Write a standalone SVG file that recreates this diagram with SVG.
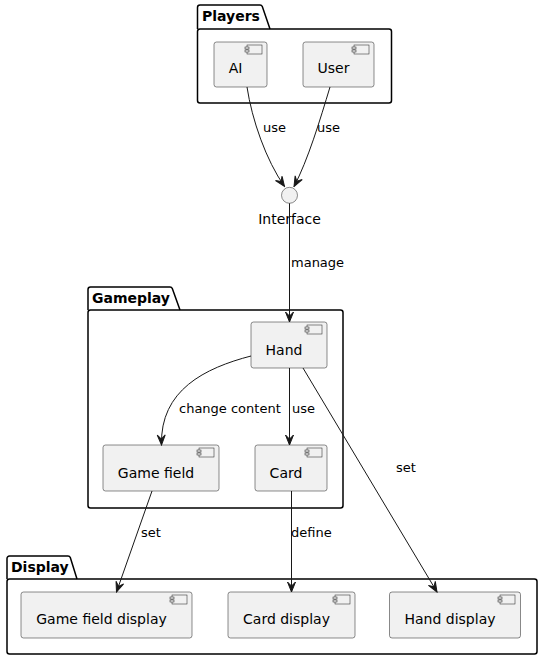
<svg xmlns="http://www.w3.org/2000/svg" width="543" height="660" viewBox="0 0 543 660">
<style>
.pkg{fill:none;stroke:#000;stroke-width:1.5}
.pt{font-family:"DejaVu Sans",sans-serif;font-size:14px;font-weight:bold;fill:#000}
.comp{fill:#F1F1F1;stroke:#181818;stroke-width:0.5}
.ct{font-family:"DejaVu Sans",sans-serif;font-size:14px;fill:#000;text-anchor:middle}
.lbl{font-family:"DejaVu Sans",sans-serif;font-size:13px;fill:#000}
.edge{fill:none;stroke:#181818;stroke-width:1}
.ico{fill:#F1F1F1;stroke:#181818;stroke-width:0.5}
</style>
<defs>
<marker id="arr" viewBox="0 0 12 10" refX="11" refY="5" markerWidth="12" markerHeight="10" markerUnits="userSpaceOnUse" orient="auto">
<path d="M1,1 L11,5 L1,9 L5,5 Z" fill="#181818" stroke="#181818" stroke-width="1"/>
</marker>
<g id="icon">
<rect x="0" y="0" width="15" height="9" class="ico"/>
<rect x="-2" y="2" width="4" height="2" class="ico"/>
<rect x="-2" y="5" width="4" height="2" class="ico"/>
</g>
</defs>
<g id="pkg-players">
<path class="pkg" d="M197.5,29 L197.5,7.5 A2.5,2.5 0 0 1 200,5 L260,5 A2.5,2.5 0 0 1 262.3,6.5 L270,29"/>
<rect class="pkg" x="197.5" y="29" width="194" height="74" rx="2.5"/>
<text class="pt" x="202" y="21">Players</text>
</g>
<g id="pkg-gameplay">
<path class="pkg" d="M88,310 L88,289.5 A2.5,2.5 0 0 1 90.5,287 L170,287 A2.5,2.5 0 0 1 172.3,288.5 L180,310"/>
<rect class="pkg" x="88" y="310" width="255" height="198" rx="2.5"/>
<text class="pt" x="92" y="303">Gameplay</text>
</g>
<g id="pkg-display">
<path class="pkg" d="M7,579 L7,558.5 A2.5,2.5 0 0 1 9.5,556 L68,556 A2.5,2.5 0 0 1 70.3,557.5 L77,579"/>
<rect class="pkg" x="7" y="579" width="530" height="75" rx="2.5"/>
<text class="pt" x="11" y="572">Display</text>
</g>
<g id="AI">
<rect class="comp" x="214" y="42" width="53" height="45" rx="2.5"/>
<use href="#icon" x="247" y="45"/>
<text class="ct" x="235.5" y="73">AI</text>
</g>
<g id="User">
<rect class="comp" x="303" y="42" width="71" height="45" rx="2.5"/>
<use href="#icon" x="354" y="45"/>
<text class="ct" x="333.5" y="73">User</text>
</g>
<g id="Interface">
<circle cx="289.5" cy="195.3" r="8" fill="#F1F1F1" stroke="#181818" stroke-width="0.5"/>
<text class="ct" x="289.5" y="224">Interface</text>
</g>
<g id="Hand">
<rect class="comp" x="251" y="322" width="76" height="46" rx="2.5"/>
<use href="#icon" x="307" y="325"/>
<text class="ct" x="284" y="355">Hand</text>
</g>
<g id="GameField">
<rect class="comp" x="103" y="445" width="116" height="46" rx="2.5"/>
<use href="#icon" x="199" y="448"/>
<text class="ct" x="156" y="478">Game field</text>
</g>
<g id="Card">
<rect class="comp" x="255" y="445" width="72" height="46" rx="2.5"/>
<use href="#icon" x="307" y="448"/>
<text class="ct" x="286" y="478">Card</text>
</g>
<g id="GameFieldDisplay">
<rect class="comp" x="21" y="592" width="171" height="46" rx="2.5"/>
<use href="#icon" x="172" y="595"/>
<text class="ct" x="101.5" y="624">Game field display</text>
</g>
<g id="CardDisplay">
<rect class="comp" x="228" y="592" width="127" height="46" rx="2.5"/>
<use href="#icon" x="335" y="595"/>
<text class="ct" x="286.5" y="624">Card display</text>
</g>
<g id="HandDisplay">
<rect class="comp" x="389.5" y="592" width="131" height="46" rx="2.5"/>
<use href="#icon" x="500" y="595"/>
<text class="ct" x="450" y="624">Hand display</text>
</g>
<g id="connectors">
<path class="edge" marker-end="url(#arr)" d="M247,87 C252,120 266,160 284.5,186.5"/>
<path class="edge" marker-end="url(#arr)" d="M330,87 C320,120 308,160 294,186.5"/>
<path class="edge" marker-end="url(#arr)" d="M289.5,203.3 L289.5,322"/>
<path class="edge" marker-end="url(#arr)" d="M251,356 C205,368 160,390 161.5,445"/>
<path class="edge" marker-end="url(#arr)" d="M289.5,368 L289.5,445"/>
<path class="edge" marker-end="url(#arr)" d="M303,368 L437,592"/>
<path class="edge" marker-end="url(#arr)" d="M152,491 L116.5,592"/>
<path class="edge" marker-end="url(#arr)" d="M291.5,491 L291.5,592"/>
<text class="lbl" x="263" y="132">use</text>
<text class="lbl" x="317" y="132">use</text>
<text class="lbl" x="291" y="267">manage</text>
<text class="lbl" x="179" y="413">change content</text>
<text class="lbl" x="292" y="413">use</text>
<text class="lbl" x="396" y="472">set</text>
<text class="lbl" x="141" y="537">set</text>
<text class="lbl" x="291" y="537">define</text>
</g>
</svg>
